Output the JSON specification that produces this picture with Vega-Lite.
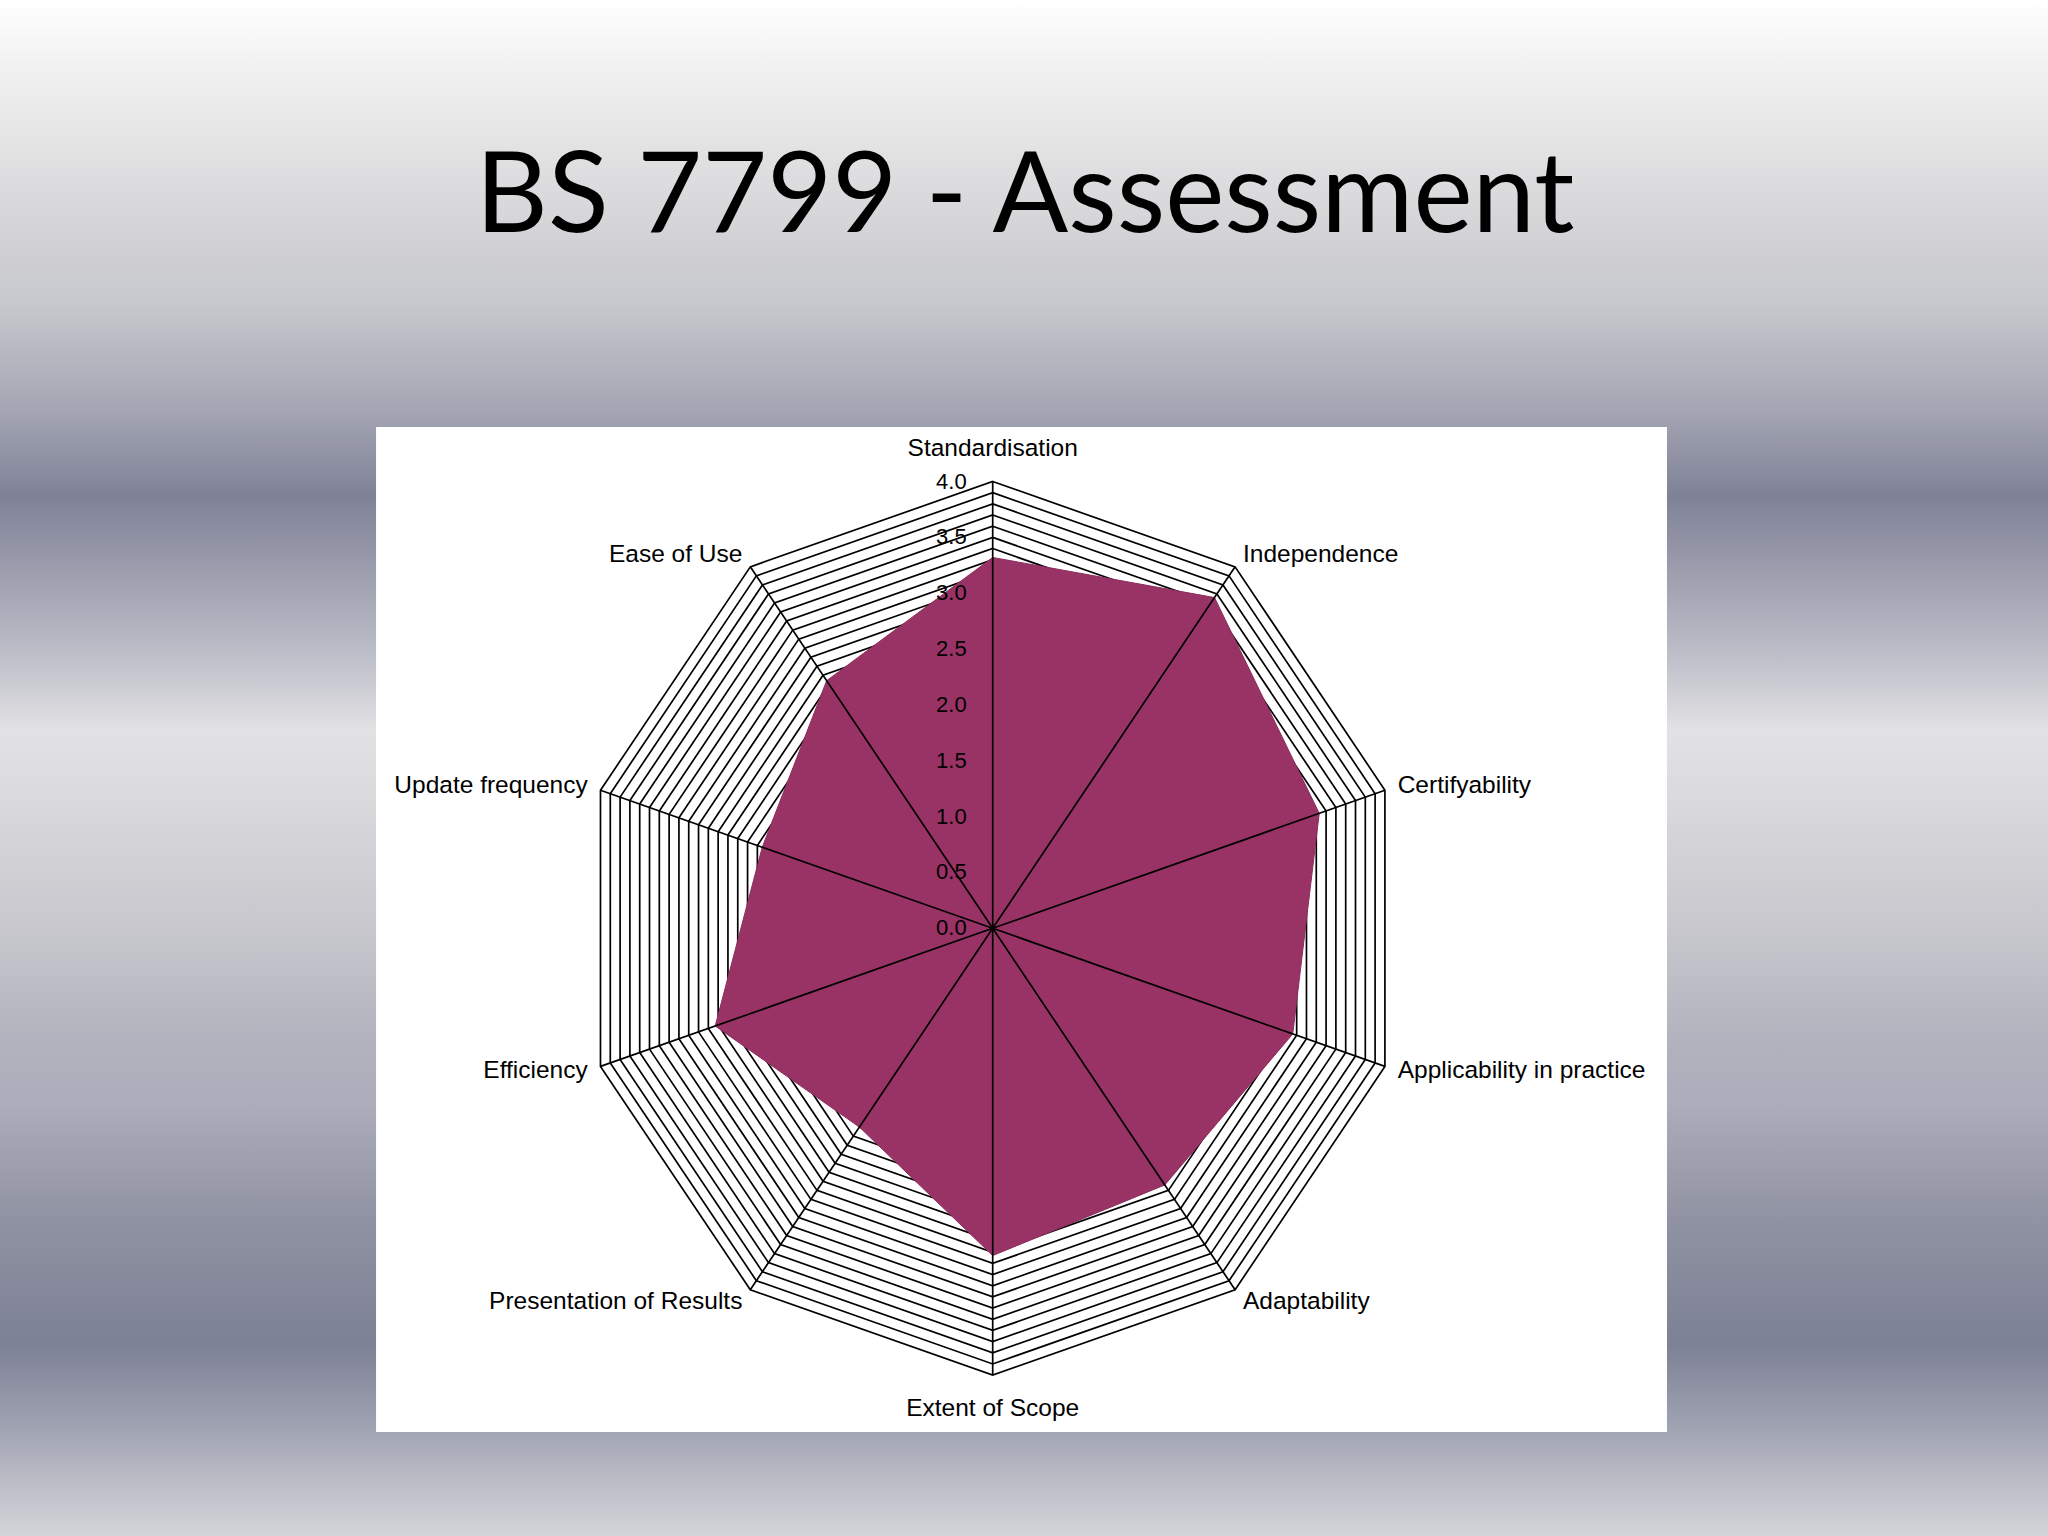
{
  "$schema": "https://vega.github.io/schema/vega-lite/v6.json",
  "width": 2048,
  "height": 1536,
  "autosize": {"type": "fit", "contains": "padding"},
  "padding": 0,
  "background": "#d0d0d4",
  "view": {"stroke": null},
  "datasets": {
    "scores": [
      {"axis": "Standardisation", "i": 0, "value": 3.32},
      {"axis": "Independence", "i": 1, "value": 3.66},
      {"axis": "Certifyability", "i": 2, "value": 3.33},
      {"axis": "Applicability in practice", "i": 3, "value": 3.06},
      {"axis": "Adaptability", "i": 4, "value": 2.84},
      {"axis": "Extent of Scope", "i": 5, "value": 2.93},
      {"axis": "Presentation of Results", "i": 6, "value": 2.2},
      {"axis": "Efficiency", "i": 7, "value": 2.83},
      {"axis": "Update frequency", "i": 8, "value": 2.35},
      {"axis": "Ease of Use", "i": 9, "value": 2.74}
    ],
    "grid": [
      {
        "level": [0.1, 0.2, 0.3, 0.4, 0.5, 0.6, 0.7, 0.8, 0.9, 1.0, 1.1, 1.2, 1.3, 1.4, 1.5, 1.6, 1.7, 1.8, 1.9, 2.0, 2.1, 2.2, 2.3, 2.4, 2.5, 2.6, 2.7, 2.8, 2.9, 3.0, 3.1, 3.2, 3.3, 3.4, 3.5, 3.6, 3.7, 3.8, 3.9, 4.0],
        "i": [0, 1, 2, 3, 4, 5, 6, 7, 8, 9]
      }
    ],
    "ticks": [
      {"tick": 0}, {"tick": 0.5}, {"tick": 1}, {"tick": 1.5}, {"tick": 2},
      {"tick": 2.5}, {"tick": 3}, {"tick": 3.5}, {"tick": 4}
    ],
    "titles": [{"title": "BS 7799 - Assessment"}]
  },
  "layer": [
    {
      "data": {"name": "titles"},
      "mark": {
        "type": "rect",
        "color": {
          "gradient": "linear", "x1": 0, "y1": 0, "x2": 0, "y2": 1,
          "stops": [
            {"offset": 0, "color": "#ffffff"},
            {"offset": 0.04, "color": "#f2f2f2"},
            {"offset": 0.12, "color": "#dcdcde"},
            {"offset": 0.2, "color": "#c6c7cc"},
            {"offset": 0.27, "color": "#a2a4b2"},
            {"offset": 0.323, "color": "#7f8297"},
            {"offset": 0.36, "color": "#9597a8"},
            {"offset": 0.42, "color": "#b8bac5"},
            {"offset": 0.476, "color": "#e2e2e4"},
            {"offset": 0.52, "color": "#dadadd"},
            {"offset": 0.6, "color": "#c8c8ce"},
            {"offset": 0.68, "color": "#b2b2be"},
            {"offset": 0.72, "color": "#acacbb"},
            {"offset": 0.8, "color": "#8e91a1"},
            {"offset": 0.875, "color": "#7d8195"},
            {"offset": 0.93, "color": "#a0a3b2"},
            {"offset": 0.96, "color": "#b8bac4"},
            {"offset": 1, "color": "#d4d5da"}
          ]
        }
      },
      "encoding": {
        "x": {"datum": -9.6285, "type": "quantitative", "scale": {"domain": [-9.6285, 10.2357], "nice": false, "zero": false}, "axis": null},
        "x2": {"datum": 10.2357},
        "y": {"datum": 8.3107, "type": "quantitative", "scale": {"domain": [-5.4405, 8.3107], "nice": false, "zero": false}, "axis": null},
        "y2": {"datum": -5.4405}
      }
    },
    {
      "data": {"name": "titles"},
      "mark": {"type": "rect", "color": "#ffffff"},
      "encoding": {
        "x": {"datum": -5.981, "type": "quantitative", "scale": {"domain": [-9.6285, 10.2357], "nice": false, "zero": false}, "axis": null},
        "x2": {"datum": 6.54},
        "y": {"datum": 4.488, "type": "quantitative", "scale": {"domain": [-5.4405, 8.3107], "nice": false, "zero": false}, "axis": null},
        "y2": {"datum": -4.509}
      }
    },
    {
      "data": {"name": "titles"},
      "mark": {"type": "text", "font": "Lato", "fontSize": 112, "color": "#000000", "align": "center", "baseline": "alphabetic"},
      "encoding": {
        "x": {"datum": 0.313, "type": "quantitative", "scale": {"domain": [-9.6285, 10.2357], "nice": false, "zero": false}, "axis": null},
        "y": {"datum": 6.236, "type": "quantitative", "scale": {"domain": [-5.4405, 8.3107], "nice": false, "zero": false}, "axis": null},
        "text": {"field": "title", "type": "nominal"}
      }
    },
    {
      "data": {"name": "grid"},
      "transform": [
        {"flatten": ["level"]},
        {"flatten": ["i"]},
        {"calculate": "datum.level * sin(datum.i * PI / 5)", "as": "gx"},
        {"calculate": "datum.level * cos(datum.i * PI / 5)", "as": "gy"}
      ],
      "mark": {"type": "line", "interpolate": "linear-closed", "color": "#000000", "strokeWidth": 1.7},
      "encoding": {
        "x": {"field": "gx", "type": "quantitative", "scale": {"domain": [-9.6285, 10.2357], "nice": false, "zero": false}, "axis": null},
        "y": {"field": "gy", "type": "quantitative", "scale": {"domain": [-5.4405, 8.3107], "nice": false, "zero": false}, "axis": null},
        "detail": {"field": "level", "type": "nominal"},
        "order": {"field": "i", "type": "quantitative"}
      }
    },
    {
      "data": {"name": "scores"},
      "transform": [
        {"calculate": "datum.value * sin(datum.i * PI / 5)", "as": "px"},
        {"calculate": "datum.value * cos(datum.i * PI / 5)", "as": "py"}
      ],
      "mark": {"type": "line", "interpolate": "linear-closed", "fill": "#993366", "stroke": "#8a2d5c", "strokeWidth": 1},
      "encoding": {
        "x": {"field": "px", "type": "quantitative", "scale": {"domain": [-9.6285, 10.2357], "nice": false, "zero": false}, "axis": null},
        "y": {"field": "py", "type": "quantitative", "scale": {"domain": [-5.4405, 8.3107], "nice": false, "zero": false}, "axis": null},
        "order": {"field": "i", "type": "quantitative"}
      }
    },
    {
      "data": {"name": "scores"},
      "transform": [
        {"calculate": "4 * sin(datum.i * PI / 5)", "as": "sx"},
        {"calculate": "4 * cos(datum.i * PI / 5)", "as": "sy"},
        {"calculate": "0", "as": "ox"},
        {"calculate": "0", "as": "oy"}
      ],
      "mark": {"type": "rule", "color": "#000000", "strokeWidth": 1.7},
      "encoding": {
        "x": {"field": "ox", "type": "quantitative", "scale": {"domain": [-9.6285, 10.2357], "nice": false, "zero": false}, "axis": null},
        "y": {"field": "oy", "type": "quantitative", "scale": {"domain": [-5.4405, 8.3107], "nice": false, "zero": false}, "axis": null},
        "x2": {"field": "sx"},
        "y2": {"field": "sy"}
      }
    },
    {
      "data": {"name": "ticks"},
      "transform": [{"calculate": "0", "as": "ox"}],
      "mark": {"type": "text", "font": "Liberation Sans", "fontSize": 22, "color": "#000000", "align": "right", "baseline": "middle", "dx": -26},
      "encoding": {
        "x": {"field": "ox", "type": "quantitative", "scale": {"domain": [-9.6285, 10.2357], "nice": false, "zero": false}, "axis": null},
        "y": {"field": "tick", "type": "quantitative", "scale": {"domain": [-5.4405, 8.3107], "nice": false, "zero": false}, "axis": null},
        "text": {"field": "tick", "type": "quantitative", "format": ".1f"}
      }
    },
    {
      "data": {"name": "scores"},
      "transform": [
        {"filter": "datum.i == 0"},
        {"calculate": "4.13 * sin(datum.i * PI / 5)", "as": "lx"},
        {"calculate": "4.13 * cos(datum.i * PI / 5)", "as": "ly"}
      ],
      "mark": {"type": "text", "font": "Liberation Sans", "fontSize": 24.5, "color": "#000000", "baseline": "middle", "align": "center", "dy": -18},
      "encoding": {
        "x": {"field": "lx", "type": "quantitative", "scale": {"domain": [-9.6285, 10.2357], "nice": false, "zero": false}, "axis": null},
        "y": {"field": "ly", "type": "quantitative", "scale": {"domain": [-5.4405, 8.3107], "nice": false, "zero": false}, "axis": null},
        "text": {"field": "axis", "type": "nominal"}
      }
    },
    {
      "data": {"name": "scores"},
      "transform": [
        {"filter": "datum.i == 5"},
        {"calculate": "4.13 * sin(datum.i * PI / 5)", "as": "lx"},
        {"calculate": "4.13 * cos(datum.i * PI / 5)", "as": "ly"}
      ],
      "mark": {"type": "text", "font": "Liberation Sans", "fontSize": 24.5, "color": "#000000", "baseline": "middle", "align": "center", "dy": 19},
      "encoding": {
        "x": {"field": "lx", "type": "quantitative", "scale": {"domain": [-9.6285, 10.2357], "nice": false, "zero": false}, "axis": null},
        "y": {"field": "ly", "type": "quantitative", "scale": {"domain": [-5.4405, 8.3107], "nice": false, "zero": false}, "axis": null},
        "text": {"field": "axis", "type": "nominal"}
      }
    },
    {
      "data": {"name": "scores"},
      "transform": [
        {"filter": "datum.i > 0 && datum.i < 5"},
        {"calculate": "4.13 * sin(datum.i * PI / 5)", "as": "lx"},
        {"calculate": "4.13 * cos(datum.i * PI / 5)", "as": "ly"}
      ],
      "mark": {"type": "text", "font": "Liberation Sans", "fontSize": 24.5, "color": "#000000", "baseline": "middle", "align": "left"},
      "encoding": {
        "x": {"field": "lx", "type": "quantitative", "scale": {"domain": [-9.6285, 10.2357], "nice": false, "zero": false}, "axis": null},
        "y": {"field": "ly", "type": "quantitative", "scale": {"domain": [-5.4405, 8.3107], "nice": false, "zero": false}, "axis": null},
        "text": {"field": "axis", "type": "nominal"}
      }
    },
    {
      "data": {"name": "scores"},
      "transform": [
        {"filter": "datum.i > 5"},
        {"calculate": "4.13 * sin(datum.i * PI / 5)", "as": "lx"},
        {"calculate": "4.13 * cos(datum.i * PI / 5)", "as": "ly"}
      ],
      "mark": {"type": "text", "font": "Liberation Sans", "fontSize": 24.5, "color": "#000000", "baseline": "middle", "align": "right"},
      "encoding": {
        "x": {"field": "lx", "type": "quantitative", "scale": {"domain": [-9.6285, 10.2357], "nice": false, "zero": false}, "axis": null},
        "y": {"field": "ly", "type": "quantitative", "scale": {"domain": [-5.4405, 8.3107], "nice": false, "zero": false}, "axis": null},
        "text": {"field": "axis", "type": "nominal"}
      }
    }
  ]
}
